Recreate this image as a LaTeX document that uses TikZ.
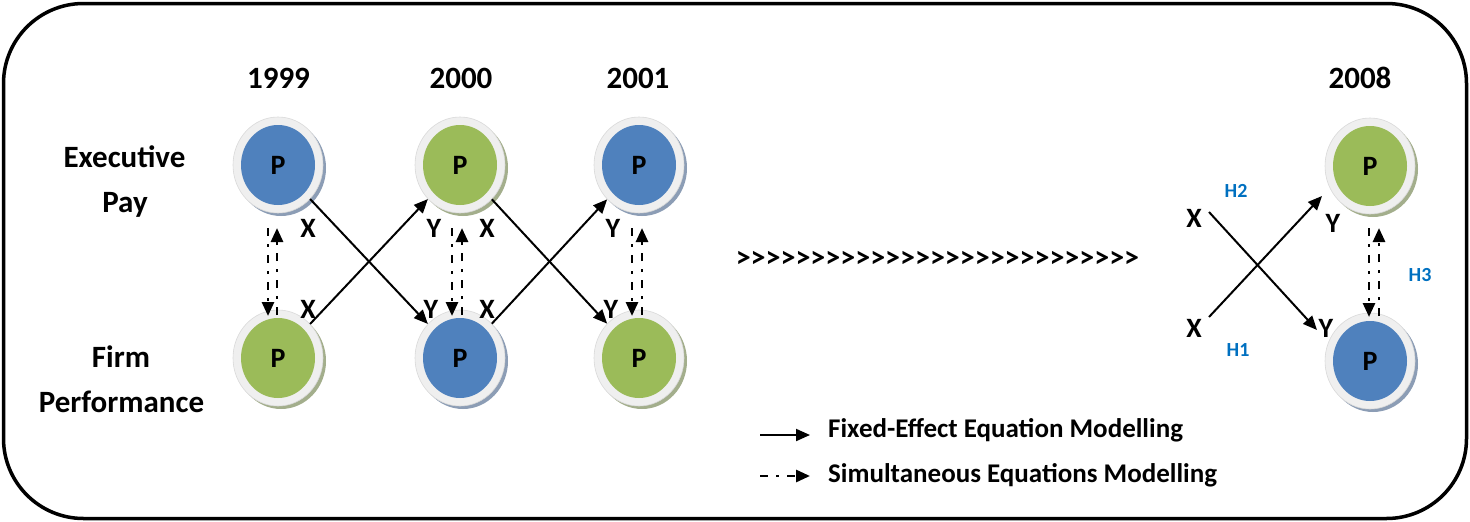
\documentclass[tikz,border=0pt]{standalone}
\usepackage{fontspec}
\setmainfont{Carlito}
\usetikzlibrary{shapes.geometric,arrows.meta,shadows,calc}
\definecolor{pblue}{HTML}{4F81BD}
\definecolor{pgreen}{HTML}{9BBB59}
\definecolor{ringc}{HTML}{EFEFEF}
\definecolor{ringedge}{HTML}{D9D9D9}
\definecolor{hblue}{HTML}{0070C0}
\definecolor{shblue}{HTML}{8C9DB5}
\definecolor{shgreen}{HTML}{A3AE8C}
\newcommand\gtone{>\kern0pt}
\newcommand\gtrun{\gtone\gtone\gtone\gtone\gtone\gtone\gtone\gtone\gtone\gtone\gtone\gtone\gtone\gtone\gtone\gtone\gtone\gtone\gtone\gtone\gtone\gtone\gtone\gtone\gtone\gtone>}
\tikzset{
  pnode/.style 2 args={ellipse, minimum width=90pt, minimum height=96pt, inner sep=0pt,
    fill=ringc, draw=ringedge, line width=0.6pt,
    drop shadow={shadow xshift=3pt, shadow yshift=-3pt, fill=#2, opacity=1},
    path picture={\fill[#1] (path picture bounding box.center) ellipse [x radius=37pt, y radius=40pt];},
    font=\fontsize{28}{32}\selectfont\bfseries},
  bluep/.style={pnode={pblue}{shblue}},
  greenp/.style={pnode={pgreen}{shgreen}},
  yearlbl/.style={font=\fontsize{31}{36}\selectfont\bfseries, inner sep=0pt, anchor=base},
  rowlbl/.style={font=\fontsize{31}{36}\selectfont\bfseries, inner sep=0pt, anchor=base},
  xylbl/.style={font=\fontsize{28}{32}\selectfont\bfseries, inner sep=0pt},
  gtlbl/.style={font=\fontsize{30}{34}\selectfont\bfseries, inner sep=0pt},
  hlbl/.style={font=\fontsize{20}{24}\selectfont\bfseries, inner sep=0pt, text=hblue},
  leglbl/.style={font=\fontsize{27}{30}\selectfont\bfseries, inner sep=0pt, anchor=base west},
  fx/.style={line width=2pt, -{Triangle[length=14pt,width=12pt]}},
  sim/.style={line width=2.8pt, dash pattern=on 8pt off 8pt on 3pt off 8pt, -{Triangle[length=14pt,width=12pt]}},
}
\begin{document}
\begin{tikzpicture}[x=1pt,y=-1pt]
\useasboundingbox (0,0) rectangle (1470,522);
\draw[line width=3.5pt, rounded corners=80pt] (3.5,3.5) rectangle (1466.5,518.5);

% row labels
\node[rowlbl] (exe) at (124.5,167) {Executive};
\node[rowlbl] (pay) at (125,212) {Pay};
\node[rowlbl] (firm) at (121,367) {Firm};
\node[rowlbl] (perf) at (121.5,412) {Performance};

% years
\node[yearlbl] (y1) at (278.5,88) {1999};
\node[yearlbl] (y2) at (461,88) {2000};
\node[yearlbl] (y3) at (638,88) {2001};
\node[yearlbl] (y8) at (1360,88) {2008};

% circles
\node[bluep] (t1) at (278,165) {P};
\node[greenp] (b1) at (278,358) {P};
\node[greenp] (t2) at (460,165) {P};
\node[bluep] (b2) at (460,358) {P};
\node[bluep] (t3) at (639,165) {P};
\node[greenp] (b3) at (639,358) {P};
\node[greenp] (t8) at (1370,166) {P};
\node[bluep] (b8) at (1370,361) {P};

% fixed-effect arrows
\draw[fx] (t1) -- (b2);
\draw[fx] (b1) -- (t2);
\draw[fx] (t2) -- (b3);
\draw[fx] (b2) -- (t3);

% simultaneous arrows
\draw[sim] ($(t1)+(-10,63)$) -- ($(b1)+(-10,-42)$);
\draw[sim] ($(b1)+(-1,-43)$) -- ($(t1)+(-1,63)$);
\draw[sim] ($(t2)+(-8,63)$) -- ($(b2)+(-8,-42)$);
\draw[sim] ($(b2)+(2,-43)$) -- ($(t2)+(2,63)$);
\draw[sim] ($(t3)+(-7,63)$) -- ($(b3)+(-7,-42)$);
\draw[sim] ($(b3)+(3,-43)$) -- ($(t3)+(3,63)$);
\draw[sim] ($(t8)+(-1,62)$) -- ($(b8)+(-1,-44)$);
\draw[sim] ($(b8)+(9,-45)$) -- ($(t8)+(9,62)$);

% X / Y labels
\node[xylbl] (x1a) at (308,228) {X};
\node[xylbl] (x1b) at (308,309) {X};
\node[xylbl] (y2a) at (434,228) {Y};
\node[xylbl] (y2b) at (431,309) {Y};
\node[xylbl] (x2a) at (487,228) {X};
\node[xylbl] (x2b) at (487,309) {X};
\node[xylbl] (y3a) at (613,228) {Y};
\node[xylbl] (y3b) at (611,309) {Y};

% continuation
\node[gtlbl] (cont) at (937.5,259.5) {\gtrun};

% right side
\node[xylbl] (x8a) at (1194,218) {X};
\node[xylbl] (x8b) at (1194,328) {X};
\node[xylbl] (y8a) at (1333,223) {Y};
\node[xylbl] (y8b) at (1326,328) {Y};
\node[hlbl] (h2) at (1236,191) {H2};
\node[hlbl] (h1) at (1238,350) {H1};
\node[hlbl] (h3) at (1420,275) {H3};
\coordinate (r1s) at (1209,212);
\coordinate (r1e) at (1317,330);
\coordinate (r2s) at (1209,317);
\coordinate (r2e) at (1322,196);
\draw[fx] (r1s) -- (r1e);
\draw[fx] (r2s) -- (r2e);

% legend
\coordinate (lg1s) at (760,435);
\coordinate (lg1e) at (810,435);
\coordinate (lg2s) at (760,476);
\coordinate (lg2e) at (810,476);
\draw[fx] (lg1s) -- (lg1e);
\draw[sim] (lg2s) -- (lg2e);
\node[leglbl] (leg1) at (828,437) {Fixed-Effect Equation Modelling};
\node[leglbl] (leg2) at (828,482) {Simultaneous Equations Modelling};
\end{tikzpicture}
\end{document}
